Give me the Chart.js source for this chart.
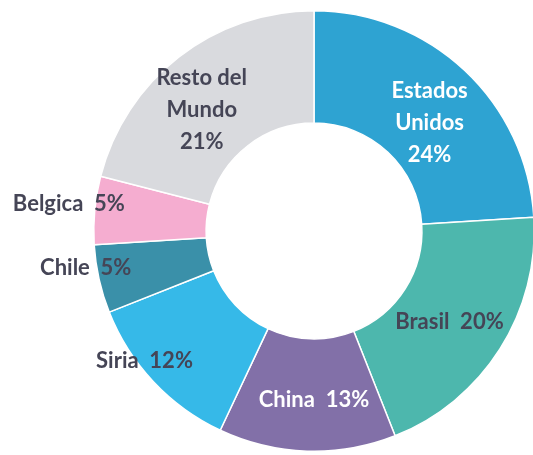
<!DOCTYPE html>
<html>
<head>
<meta charset="utf-8">
<script src="https://cdn.jsdelivr.net/npm/chart.js@4/dist/chart.umd.min.js"></script>
<style>
  html, body { margin: 0; padding: 0; background: #fff; overflow: hidden; }
  #wrap { width: 540px; height: 455px; position: relative; }
</style>
</head>
<body>
<div id="wrap"><canvas id="myChart"></canvas></div>
<script>
const categories = [['Estados', 'Unidos'], 'Brasil', 'China', 'Siria', 'Chile', 'Belgica', ['Resto del', 'Mundo']];
const shares = [24, 20, 13, 12, 5, 5, 21];
const colors = ['#2EA3D2', '#4DB7AD', '#8270A8', '#36B9E8', '#3A90A9', '#F5ADD0', '#D9DADE'];

// label look and placement (radius as fraction of outer radius, angle shift in degrees)
const labelStyle = {
  color: ['#FFFFFF', '#454556', '#FFFFFF', '#454556', '#454556', '#454556', '#454556'],
  radius: [0.72, 0.74, 0.765, 0.97, 1.05, 1.12, 0.75],
  shift: [3.6, 1.4, -1.8, 5.7, 3.4, 0.9, -5.0],
  lineHeight: 32
};

const sliceLabels = {
  id: 'sliceLabels',
  afterDatasetsDraw(chart) {
    const ctx = chart.ctx;
    const meta = chart.getDatasetMeta(0);
    ctx.save();
    ctx.font = 'bold 22px Lato';
    ctx.textAlign = 'center';
    ctx.textBaseline = 'middle';
    meta.data.forEach((arc, i) => {
      const p = arc.getProps(['x', 'y', 'startAngle', 'endAngle', 'outerRadius']);
      const mid = (p.startAngle + p.endAngle) / 2 + labelStyle.shift[i] * Math.PI / 180;
      const r = p.outerRadius * labelStyle.radius[i];
      const cx = p.x + Math.cos(mid) * r;
      const cy = p.y + Math.sin(mid) * r;
      const name = chart.data.labels[i];
      const pct = shares[i] + '%';
      let lines;
      if (Array.isArray(name)) lines = [...name, pct];
      else lines = [name + '  ' + pct];
      ctx.fillStyle = labelStyle.color[i];
      const top = cy - (lines.length - 1) * labelStyle.lineHeight / 2;
      lines.forEach((t, k) => ctx.fillText(t, cx, top + k * labelStyle.lineHeight));
    });
    ctx.restore();
  }
};

new Chart(document.getElementById('myChart'), {
  type: 'doughnut',
  data: {
    labels: categories,
    datasets: [{
      data: shares,
      backgroundColor: colors,
      borderColor: '#FFFFFF',
      borderWidth: 1.5
    }]
  },
  options: {
    responsive: true,
    maintainAspectRatio: false,
    animation: false,
    cutout: '49%',
    layout: { padding: { left: 93, right: 5, top: 10, bottom: 3 } },
    plugins: {
      legend: { display: false },
      tooltip: { enabled: false }
    }
  },
  plugins: [sliceLabels]
});
</script>
</body>
</html>
